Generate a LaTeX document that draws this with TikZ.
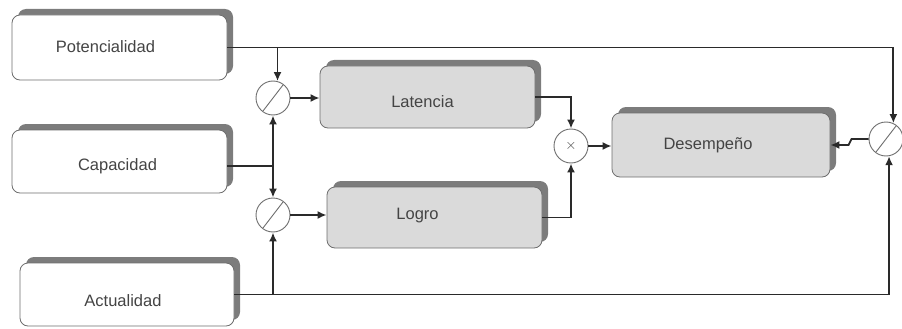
\documentclass[tikz,border=0pt]{standalone}
\usepackage{fontspec}
\setmainfont{Liberation Sans}
\usetikzlibrary{shadows,arrows.meta,calc}

\definecolor{wire}{HTML}{2A2A2A}
\definecolor{boxline}{HTML}{6E6E6E}
\definecolor{shadowgray}{HTML}{7C7C7C}
\definecolor{panelgray}{HTML}{DADADA}
\definecolor{labelgray}{HTML}{444444}

\tikzset{
  block/.style={draw=boxline, line width=0.8pt, rounded corners=8pt,
    inner sep=0pt, fill=white,
    drop shadow={shadow xshift=6pt, shadow yshift=6pt, fill=shadowgray, opacity=1}},
  inblock/.style={block},
  procblock/.style={block, fill=panelgray},
  txt/.style={font=\fontsize{16.5}{18}\selectfont, text=labelgray, inner sep=0pt},
  op/.style={circle, draw=boxline, line width=0.9pt, fill=white,
    minimum size=34pt, inner sep=0pt},
  wireline/.style={draw=wire, line width=1.8pt},
  arr/.style={wireline, -{Latex[length=9pt,width=8pt]}},
}

\begin{document}
\begin{tikzpicture}[x=1pt,y=-1pt]
\useasboundingbox (0,0) rectangle (902,329);

% input blocks
\node[inblock, minimum width=215pt, minimum height=65pt,
  label={[txt, name=potT, xshift=-14pt, yshift=1pt]center:Potencialidad}]
  (pot) at (119.5,47.5) {};
\node[inblock, minimum width=215pt, minimum height=63pt,
  label={[txt, name=capT, xshift=-2pt, yshift=-5pt]center:Capacidad}]
  (cap) at (119.5,161.5) {};
\node[inblock, minimum width=214pt, minimum height=63pt,
  label={[txt, name=actT, xshift=-4pt, yshift=-6pt]center:Actualidad}]
  (act) at (127,294.5) {};

% process blocks
\node[procblock, minimum width=215pt, minimum height=62pt,
  label={[txt, name=latT, xshift=-5pt, yshift=-5pt]center:Latencia}]
  (lat) at (427.5,97) {};
\node[procblock, minimum width=215pt, minimum height=61pt,
  label={[txt, name=logT, xshift=-17pt, yshift=2pt]center:Logro}]
  (log) at (434.5,217.5) {};
\node[procblock, minimum width=218pt, minimum height=64pt,
  label={[txt, name=desT, xshift=-13pt]center:Desempeño}]
  (des) at (721,145) {};

% operators
\node[op] (d1) at (273,98) {};
\node[op] (d2) at (273,215) {};
\node[op, font=\fontsize{15}{15}\selectfont, text=labelgray] (mul) at (571,146) {$\times$};
\node[op] (d3) at (886,139) {};

% division slashes
\foreach \c in {d1,d2,d3}
  \draw[draw=boxline, line width=0.9pt] ($(\c)+(-10,13)$) -- ($(\c)+(10,-13)$);

% Potencialidad feeds both dividers
\draw[arr] (pot.east) -| (d3.65);
\coordinate (pj) at (d1.75 |- pot.east);
\draw[arr] (pj) -- (d1.75);

% Capacidad splits up and down
\coordinate (cj) at (273,166);
\draw[wireline] (cap.east |- cj) -- (cj);
\draw[arr] (cj) -- (d1.south);
\draw[arr] (cj) -- (d2.north);

% Actualidad feeds both dividers
\draw[arr] (act.east) -| (d3.-80);
\coordinate (aj) at (d2.south |- act.east);
\draw[arr] (aj) -- (d2.south);

% divider outputs
\draw[arr] (d1.east) -- (lat.west |- d1.east);
\draw[arr] (d2.east) -- (log.west |- d2.east);

% product
\draw[arr] (lat.east) -| (mul.north);
\draw[arr] (log.east) -| (mul.south);
\draw[arr] (mul.east) -- (des.west |- mul.east);

% feedback into Desempeño
\draw[arr] (d3.west) -- ++(-17,0) -- ++(-3,6) -- (des.east);
\end{tikzpicture}
\end{document}
